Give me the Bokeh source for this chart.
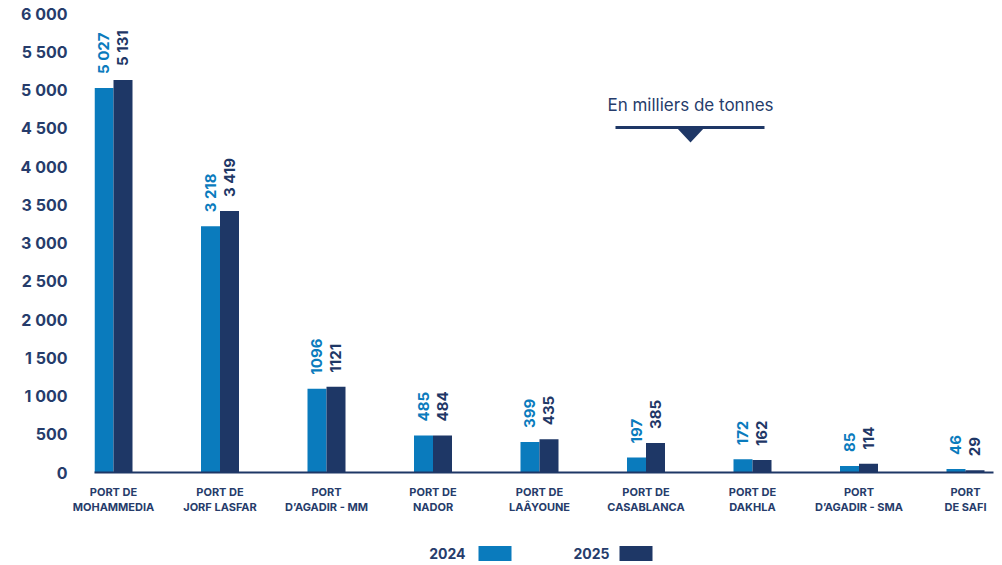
import numpy as np
from bokeh.plotting import figure
from bokeh.models import ColumnDataSource, LabelSet, FixedTicker, Range1d
from bokeh.layouts import column
from bokeh.embed import file_html
from bokeh.resources import INLINE
from bokeh.core.properties import value

# ---------------- data ----------------
ports = ["PORT DE\nMOHAMMEDIA", "PORT DE\nJORF LASFAR", "PORT\nD’AGADIR - MM",
         "PORT DE\nNADOR", "PORT DE\nLAÂYOUNE", "PORT DE\nCASABLANCA",
         "PORT DE\nDAKHLA", "PORT\nD’AGADIR - SMA", "PORT\nDE SAFI"]
v2024 = [5027, 3218, 1096, 485, 399, 197, 172, 85, 46]
v2025 = [5131, 3419, 1121, 484, 435, 385, 162, 114, 29]
lab2024 = ["5 027", "3 218", "1096", "485", "399", "197", "172", "85", "46"]
lab2025 = ["5 131", "3 419", "1121", "484", "435", "385", "162", "114", "29"]
years = ["2024", "2025"]
yticks = [0, 500, 1000, 1500, 2000, 2500, 3000, 3500, 4000, 4500, 5000, 5500, 6000]
ytick_labels = ["0", "500", "1 000", "1 500", "2 000", "2 500", "3 000",
                "3 500", "4 000", "4 500", "5 000", "5 500", "6 000"]
unit_text = "En milliers de tonnes"

# ---------------- style ----------------
C24 = "#0a7bbd"
C25 = "#1e3766"
TXT = "#263c6b"
FONT = "Inter"

FRAME_L, FRAME_R = 94, 993          # page px
FRAME_T, FRAME_B = 13, 472
CAT0, CAT_STEP = 113, 106.5         # page px
x_start = 0 - (CAT0 - FRAME_L) / CAT_STEP
x_end = x_start + (FRAME_R - FRAME_L) / CAT_STEP
bar_w = 19 / CAT_STEP

idx = np.arange(len(ports))
src = ColumnDataSource(dict(
    x24=idx - bar_w / 2, x25=idx + bar_w / 2,
    v24=v2024, v25=v2025, l24=lab2024, l25=lab2025))

MAIN_H = 528
p = figure(width=1000, height=MAIN_H, output_backend="svg", toolbar_location=None,
           x_range=Range1d(x_start, x_end), y_range=Range1d(0, 6000),
           min_border_left=FRAME_L, min_border_right=1000 - FRAME_R,
           min_border_top=FRAME_T, min_border_bottom=MAIN_H - FRAME_B)
p.outline_line_color = None
p.xgrid.visible = False
p.ygrid.visible = False
p.background_fill_color = "white"

p.vbar(x="x24", top="v24", width=bar_w, source=src, color=C24, line_color=None)
p.vbar(x="x25", top="v25", width=bar_w, source=src, color=C25, line_color=None)

for xcol, lcol, ycol, col in (("x24", "l24", "v24", C24), ("x25", "l25", "v25", C25)):
    p.add_layout(LabelSet(x=xcol, y=ycol, text=lcol, source=src, angle=np.pi / 2,
                          text_align="left", text_baseline="middle", y_offset=14,
                          text_font=value(FONT), text_font_size="15px",
                          text_font_style="bold", text_color=col))

# y axis
p.yaxis.ticker = FixedTicker(ticks=yticks)
p.yaxis.major_label_overrides = {t: l for t, l in zip(yticks, ytick_labels)}
p.yaxis.axis_line_color = None
p.yaxis.major_tick_line_color = None
p.yaxis.minor_tick_line_color = None
p.yaxis.major_label_standoff = 21
p.yaxis.major_label_text_font = FONT
p.yaxis.major_label_text_font_size = "16px"
p.yaxis.major_label_text_font_style = "bold"
p.yaxis.major_label_text_color = TXT

# x axis
p.xaxis.ticker = FixedTicker(ticks=list(idx))
p.xaxis.major_label_overrides = {int(i): s for i, s in zip(idx, ports)}
p.xaxis.axis_line_color = C25
p.xaxis.axis_line_width = 2
p.xaxis.major_tick_line_color = None
p.xaxis.minor_tick_line_color = None
p.xaxis.major_tick_out = 0
p.xaxis.major_tick_in = 0
p.xaxis.major_label_standoff = 12
p.xaxis.major_label_text_font = FONT
p.xaxis.major_label_text_font_size = "11px"
p.xaxis.major_label_text_font_style = "bold"
p.xaxis.major_label_text_line_height = 1.1
p.xaxis.major_label_text_color = TXT
p.xaxis.major_label_text_align = "center"


# unit annotation (decoration, placed in page pixels)
def dx(px):
    return x_start + (px - FRAME_L) / CAT_STEP


def dy(py):
    return (FRAME_B - py) / (FRAME_B - FRAME_T) * 6000


p.text(x=[dx(690)], y=[dy(104)], text=[unit_text], text_align="center",
       text_baseline="middle", text_font=value(FONT), text_font_size="17px",
       text_font_style="normal", text_color=TXT)
p.line(x=[dx(615), dx(764)], y=[dy(127), dy(127)], line_color=C25, line_width=3)
p.patch(x=[dx(676), dx(704), dx(690)], y=[dy(127), dy(127), dy(142)],
        color=C25, line_color=None)

# ---------------- legend figure (frame aligned with main frame) ----------------
LG_H = 36
lg = figure(width=1000, height=LG_H, output_backend="svg", toolbar_location=None,
            x_range=Range1d(FRAME_L, FRAME_R), y_range=Range1d(0, LG_H),
            min_border=0, min_border_left=FRAME_L, min_border_right=1000 - FRAME_R)
lg.axis.visible = False
lg.grid.visible = False
lg.outline_line_color = None
ly = MAIN_H + LG_H - 553
lg.text(x=[465, 609], y=[ly, ly], text=years, text_align="right", text_baseline="middle",
        text_font=value(FONT), text_font_size="14px", text_font_style="bold",
        text_color=TXT)
lg.rect(x=[494.5, 635.5], y=[ly, ly], width=33, height=15, color=[C24, C25],
        line_color=None)

layout = column(p, lg, spacing=0)
open("out.html", "w").write(file_html(layout, INLINE))
